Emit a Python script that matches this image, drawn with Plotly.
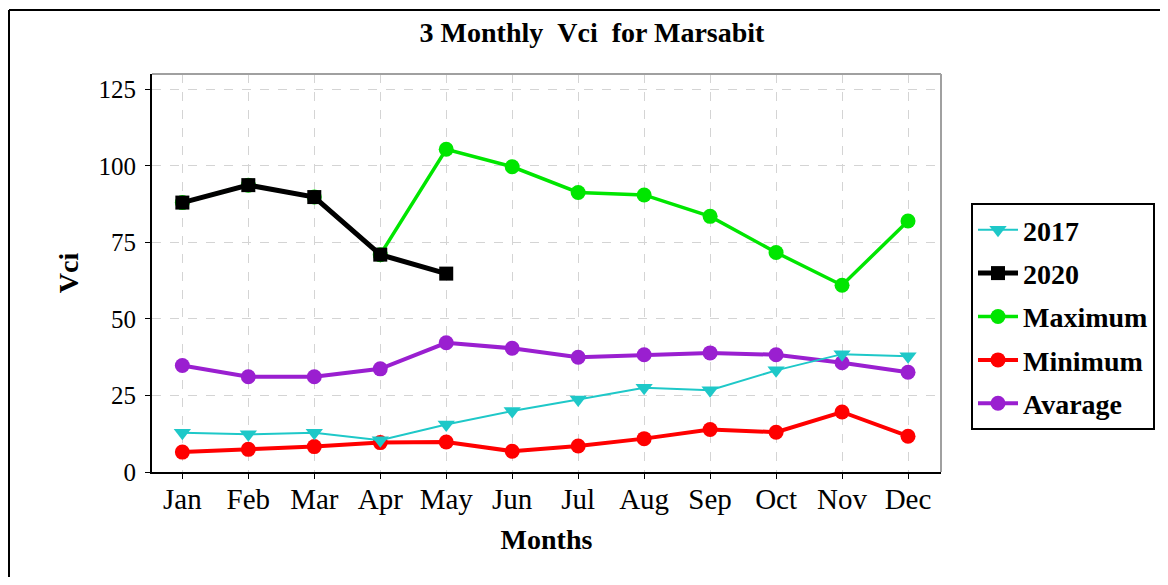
import plotly.graph_objects as go

months = ["Jan", "Feb", "Mar", "Apr", "May", "Jun", "Jul", "Aug", "Sep", "Oct", "Nov", "Dec"]
y2017 = [12.8, 12.3, 12.8, 10.4, 15.5, 19.9, 23.7, 27.5, 26.7, 33.2, 38.5, 37.8]
y2020 = [88.0, 93.7, 89.8, 71.0, 64.8]
maximum = [88.0, 93.7, 89.8, 71.0, 105.4, 99.7, 91.3, 90.5, 83.5, 71.7, 61.0, 82.0]
minimum = [6.5, 7.4, 8.3, 9.6, 9.8, 6.8, 8.5, 10.9, 13.9, 13.0, 19.6, 11.7]
average = [34.8, 31.1, 31.1, 33.7, 42.2, 40.4, 37.5, 38.3, 38.9, 38.3, 35.7, 32.6]
y_ticks = [0, 25, 50, 75, 100, 125]

SERIF = "Liberation Serif"
OFF = 8  # page body margin offset

fig = go.Figure()
# drawn in reverse legend order so that 2020 covers Maximum and 2017 is on top
fig.add_trace(go.Scatter(x=months, y=average, name="Avarage", mode="lines+markers",
                         line=dict(color="#9a1fd0", width=4),
                         marker=dict(symbol="circle", size=15, color="#9a1fd0"),
                         legendgroup="e", legendrank=5))
fig.add_trace(go.Scatter(x=months, y=minimum, name="Minimum", mode="lines+markers",
                         line=dict(color="#ff0000", width=4),
                         marker=dict(symbol="circle", size=15, color="#ff0000"),
                         legendgroup="d", legendrank=4))
fig.add_trace(go.Scatter(x=months, y=maximum, name="Maximum", mode="lines+markers",
                         line=dict(color="#00e600", width=3.5),
                         marker=dict(symbol="circle", size=15, color="#00e600"),
                         legendgroup="c", legendrank=3))
fig.add_trace(go.Scatter(x=months[:len(y2020)], y=y2020, name="2020", mode="lines+markers",
                         line=dict(color="#000000", width=5),
                         marker=dict(symbol="square", size=14, color="#000000"),
                         legendgroup="b", legendrank=2))
fig.add_trace(go.Scatter(x=months, y=y2017, name="2017", mode="lines+markers",
                         line=dict(color="#1ec8c8", width=2),
                         marker=dict(symbol="triangle-down", size=15, color="#1ec8c8"),
                         legendgroup="a", legendrank=1))

L, R, T, B = 152 - OFF, 941 - OFF, 74 - OFF, 472 - OFF
W, H = 1168 - OFF, 585 - 2 * OFF  # keep page height within the window (no scrollbar)

def px(xp):
    return (xp - OFF - L) / (R - L)

def py(yp):
    return (B - (yp - OFF)) / (B - T)

fig.update_layout(
    width=W, height=H,
    margin=dict(l=L, r=W - R, t=T, b=H - B, pad=0, autoexpand=False),
    paper_bgcolor="white", plot_bgcolor="white",
    title=dict(text="3 Monthly\u00a0\u00a0Vci\u00a0\u00a0for Marsabit", x=(592 - OFF) / W, xanchor="center",
               y=1 - (32 - OFF) / H, yanchor="middle",
               font=dict(family=SERIF, size=28, color="black", weight="bold")),
    font=dict(family=SERIF, color="black"),
    legend=dict(x=px(971), xanchor="left", y=py(203), yanchor="top",
                traceorder="grouped", tracegroupgap=4, itemwidth=40,
                bordercolor="black", borderwidth=2, bgcolor="white",
                font=dict(family=SERIF, size=28, color="black", weight="bold")),
    showlegend=True,
)

fig.update_xaxes(
    type="category", range=[-0.46, 11.5],
    showline=True, linecolor="black", linewidth=2,
    ticks="outside", ticklen=5, tickcolor="black", tickwidth=1,
    ticklabelstandoff=-5,
    showgrid=True, gridcolor="#d4d4d4", griddash="dash", gridwidth=1,
    tickfont=dict(family=SERIF, size=29, color="black"),
    title=dict(text="Months", standoff=16,
               font=dict(family=SERIF, size=28, color="black", weight="bold")),
    zeroline=False,
)
fig.update_yaxes(
    range=[0, 130], tickvals=y_ticks,
    showline=True, linecolor="black", linewidth=2,
    ticks="outside", ticklen=5, tickcolor="black", tickwidth=1,
    ticklabelstandoff=4,
    showgrid=True, gridcolor="#d4d4d4", griddash="dash", gridwidth=1,
    tickfont=dict(family=SERIF, size=25, color="black"),
    title=dict(text="Vci", standoff=12,
               font=dict(family=SERIF, size=28, color="black", weight="bold")),
    zeroline=False,
)

# grey top/right plot border
fig.add_shape(type="line", xref="x domain", yref="y domain", x0=0, x1=1, y0=1, y1=1,
              line=dict(color="#a0a0a0", width=2))
fig.add_shape(type="line", xref="x domain", yref="y domain", x0=1, x1=1, y0=0, y1=1,
              line=dict(color="#a0a0a0", width=2))
# outer frame (left and top edges)
fig.add_shape(type="line", xref="paper", yref="paper", x0=px(9), x1=px(9), y0=py(10), y1=py(600),
              line=dict(color="black", width=2))
fig.add_shape(type="line", xref="paper", yref="paper", x0=px(9), x1=px(1180), y0=py(10), y1=py(10),
              line=dict(color="black", width=2))

fig.write_html("out.html")
